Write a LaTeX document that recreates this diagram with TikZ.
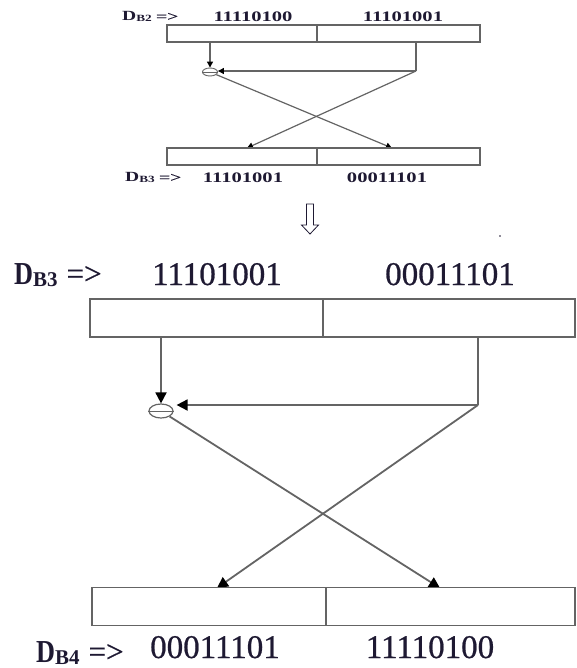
\documentclass[tikz,border=0pt]{standalone}
\usepackage{fontspec}
\setmainfont{Liberation Serif}
\newfontfamily\heavyserif[FakeBold=0.7]{Liberation Serif}
\usetikzlibrary{arrows.meta,shapes.geometric}

\definecolor{ink}{RGB}{30,25,50}
\definecolor{linegray}{RGB}{100,100,100}

% block labels  D_{Bn} =>
\newcommand{\dbbig}[1]{\scalebox{0.82}[1]{\fontsize{32}{32}\selectfont\bfseries D}\raisebox{-2pt}{\fontsize{21}{21}\selectfont\bfseries #1}\hspace{9pt}{\fontsize{31}{31}\selectfont\heavyserif =>}}
\newcommand{\dbsmall}[1]{\scalebox{1.4}[1]{\fontsize{14}{14}\selectfont\textbf{D}\raisebox{-1pt}{\fontsize{9.5}{9.5}\selectfont\bfseries #1}\hspace{3pt}{\heavyserif =>}}}
% bit strings
\newcommand{\bitsbig}[1]{{\fontsize{33}{33}\selectfont\heavyserif #1}}
\newcommand{\bitssmall}[1]{\scalebox{1.42}[1]{\fontsize{14.5}{14.5}\selectfont\bfseries #1}}

\tikzset{
  txt/.style={inner sep=0pt, text=ink},
  bigcell/.style={draw=linegray, line width=1.8pt, rectangle, inner sep=0pt, minimum height=38pt},
  smallcell/.style={draw=linegray, line width=1.2pt, rectangle, inner sep=0pt, minimum height=17pt},
  bigline/.style={draw=linegray, line width=1.8pt},
  smallline/.style={draw=linegray, line width=1.2pt},
  bigarrow/.style={bigline, -{Triangle[length=11pt,width=11pt,color=black,fill=black]}},
  smallarrow/.style={smallline, -{Triangle[length=6pt,width=6pt,color=black,fill=black]}},
  xorbig/.style={ellipse, draw=linegray, line width=1.2pt, inner sep=0pt, minimum width=24pt, minimum height=14pt},
  xorsmall/.style={ellipse, draw=linegray, line width=0.9pt, inner sep=0pt, minimum width=15pt, minimum height=8pt},
}

\begin{document}
\begin{tikzpicture}[x=1pt,y=-1pt]
\useasboundingbox (0,0) rectangle (576,668);

% ---------- small round: D_B2 -> D_B3 ----------
\node[txt, anchor=base west] (lb2) at (122,21) {\dbsmall{B2}};
\node[txt, anchor=base] (b2l) at (253,21.5) {\bitssmall{11110100}};
\node[txt, anchor=base] (b2r) at (403,21.5) {\bitssmall{11101001}};

\node[smallcell, minimum width=150pt] (C1) at (242,33.5) {};
\node[smallcell, minimum width=163pt] (C2) at (398.5,33.5) {};

\node[xorsmall] (Y) at (210,72) {};
\draw[linegray, line width=0.8pt] (Y.west) -- (Y.east);

\coordinate (r) at (416,71);
\coordinate (tl) at (247,148);
\coordinate (tr) at (392,148);

\draw[smallarrow] (C1.south -| Y.north) -- (Y.north);
\draw[smallline] (C2.south -| r) -- (r);
\draw[smallarrow] (r) -- (r -| Y.east);
\draw[smallarrow] (r) -- (tl);
\draw[smallarrow] (Y) -- (tr);

\node[smallcell, minimum width=150pt] (D1) at (242,156.5) {};
\node[smallcell, minimum width=163pt] (D2) at (398.5,156.5) {};

\node[txt, anchor=base west] (lb3s) at (125,182) {\dbsmall{B3}};
\node[txt, anchor=base] (b3ls) at (243,183) {\bitssmall{11101001}};
\node[txt, anchor=base] (b3rs) at (387,183) {\bitssmall{00011101}};

% ---------- hollow down arrow between the rounds ----------
\draw[ink, line width=0.8pt, fill=white, line join=miter]
  (306.5,204) -- (313.5,204) -- (313.5,225) -- (318.5,225) -- (310,234)
  -- (301.5,225) -- (306.5,225) -- cycle;
\fill[ink] (500,236) circle (0.8pt);

% ---------- large round: D_B3 -> D_B4 ----------
\node[txt, anchor=base west] (lb3) at (14,284) {\dbbig{B3}};
\node[txt, anchor=base] (b3l) at (217,285) {\bitsbig{11101001}};
\node[txt, anchor=base] (b3r) at (450,285) {\bitsbig{00011101}};

\node[bigcell, minimum width=233pt] (A1) at (206.5,318) {};
\node[bigcell, minimum width=252pt] (A2) at (449,318) {};

\node[xorbig] (X) at (161,411) {};
\draw[linegray, line width=1pt] (X.west) -- (X.east);

\coordinate (R) at (478,405);
\coordinate (tL) at (217,588);
\coordinate (tR) at (440,588);

\draw[bigarrow] (A1.south -| X.north) -- (X.north);
\draw[bigline] (A2.south -| R) -- (R);
\draw[bigarrow] (R) -- ([xshift=3pt]R -| X.east);
\draw[bigarrow] (R) -- (tL);
\draw[bigarrow] (X) -- (tR);

\node[bigcell, minimum width=234pt] (B1) at (209,606.5) {};
\node[bigcell, minimum width=249pt] (B2) at (450.5,606.5) {};

\node[txt, anchor=base west] (lb4) at (36,662) {\dbbig{B4}};
\node[txt, anchor=base] (b4l) at (215,658) {\bitsbig{00011101}};
\node[txt, anchor=base] (b4r) at (430,658) {\bitsbig{11110100}};
\end{tikzpicture}
\end{document}
